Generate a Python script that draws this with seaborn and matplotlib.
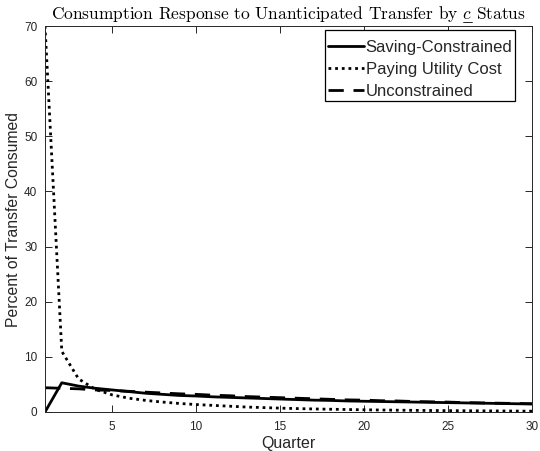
import numpy as np
import pandas as pd
import matplotlib
matplotlib.use("Agg")
import matplotlib.pyplot as plt
from matplotlib.lines import Line2D
import seaborn as sns

# Quarters after the transfer
quarters = list(range(1, 31))

# Percent of transfer consumed each quarter, by status
saving_constrained = [0.0, 5.3, 4.7, 4.3, 4.0, 3.7, 3.4, 3.2, 3.0, 2.9,
                      2.75, 2.65, 2.55, 2.45, 2.35, 2.25, 2.15, 2.1, 2.0, 1.95,
                      1.9, 1.85, 1.8, 1.75, 1.7, 1.65, 1.6, 1.55, 1.5, 1.45]
paying_utility_cost = [70.0, 11.0, 6.0, 4.1, 3.1, 2.5, 2.1, 1.8, 1.55, 1.35,
                       1.2, 1.05, 0.9, 0.8, 0.7, 0.62, 0.55, 0.5, 0.45, 0.4,
                       0.36, 0.33, 0.3, 0.27, 0.25, 0.23, 0.21, 0.19, 0.17, 0.15]
unconstrained = [4.4, 4.3, 4.2, 4.0, 3.9, 3.75, 3.6, 3.45, 3.3, 3.2,
                 3.05, 2.95, 2.8, 2.7, 2.6, 2.5, 2.4, 2.3, 2.2, 2.15,
                 2.05, 2.0, 1.9, 1.85, 1.8, 1.7, 1.65, 1.6, 1.55, 1.5]

series_names = ["Saving-Constrained", "Paying Utility Cost", "Unconstrained"]
x_ticks = [5, 10, 15, 20, 25, 30]
y_ticks = [0, 10, 20, 30, 40, 50, 60, 70]

df = pd.DataFrame({
    "Quarter": quarters * 3,
    "Percent": saving_constrained + paying_utility_cost + unconstrained,
    "Status": [series_names[0]] * 30 + [series_names[1]] * 30 + [series_names[2]] * 30,
})

sns.set_style("ticks")
plt.rcParams["font.family"] = ["Liberation Sans", "DejaVu Sans"]
plt.rcParams["mathtext.fontset"] = "cm"

ink = "#262626"
fig = plt.figure(figsize=(5.4, 4.51), dpi=100)
ax = fig.add_axes([45 / 540, 1 - 412 / 451, 487 / 540, 386 / 451])

styles = {
    series_names[0]: dict(linestyle="-", linewidth=2.0),
    series_names[1]: dict(linestyle=(0, (1, 1.4)), linewidth=2.0),
    series_names[2]: dict(linestyle=(0, (5.5, 3.5)), linewidth=2.0),
}
for name in series_names:
    sub = df[df["Status"] == name]
    sns.lineplot(data=sub, x="Quarter", y="Percent", ax=ax, color="black",
                 label=name, **styles[name])

ax.set_xlim(1, 30)
ax.set_ylim(0, 70)
ax.set_xticks(x_ticks)
ax.set_yticks(y_ticks)
ax.tick_params(direction="in", length=5, width=0.7, top=True, right=True,
               labelsize=8.5, colors=ink)
ax.tick_params(axis="x", pad=6.5)
ax.tick_params(axis="y", pad=5.5)
for sp in ax.spines.values():
    sp.set_visible(True)
    sp.set_color(ink)
    sp.set_linewidth(0.7)

ax.set_xlabel("Quarter", fontsize=11.5, color=ink, labelpad=2)
ax.set_ylabel("Percent of Transfer Consumed", fontsize=11.3, color=ink, labelpad=2)

# Legend box: a tiny blank title gives the extra room above the first entry
leg = ax.legend(loc="upper right", bbox_to_anchor=((515 - 45) / 487, (412 - 30) / 386),
                borderaxespad=0, fontsize=12, frameon=True, fancybox=False,
                framealpha=1, edgecolor="black", handlelength=2.15,
                handletextpad=0.12, labelspacing=0.4, borderpad=0.15,
                title=" ", title_fontsize=1)
leg.get_frame().set_linewidth(0.9)

# Title in Computer Modern, with an underlined math c
title_str = "Consumption Response to Unanticipated Transfer by $c$ Status"
title_kw = dict(family="cmr10", fontsize=12.5, color="black")
cx = (45 + 487 / 2) / 540
base_y = 1 - 19 / 451
t = fig.text(cx, base_y, title_str, ha="center", va="baseline", **title_kw)

fig.canvas.draw()
r = fig.canvas.get_renderer()

def width_of(s):
    tmp = fig.text(0, 0, s, **title_kw)
    w = tmp.get_window_extent(r).width
    tmp.remove()
    return w

W = t.get_window_extent(r).width
w_pre = width_of("Consumption Response to Unanticipated Transfer by")
w_c = width_of("$c$")
w_post = width_of("Status")
space = (W - w_pre - w_c - w_post) / 2
left = cx * 540 - W / 2
c0 = left + w_pre + space
c1 = c0 + w_c
uy = base_y * 451 - 2.5
fig.add_artist(Line2D([c0 / 540, c1 / 540], [uy / 451, uy / 451],
                      transform=fig.transFigure, color="black", linewidth=0.6))

fig.savefig("out.png", dpi=100)
